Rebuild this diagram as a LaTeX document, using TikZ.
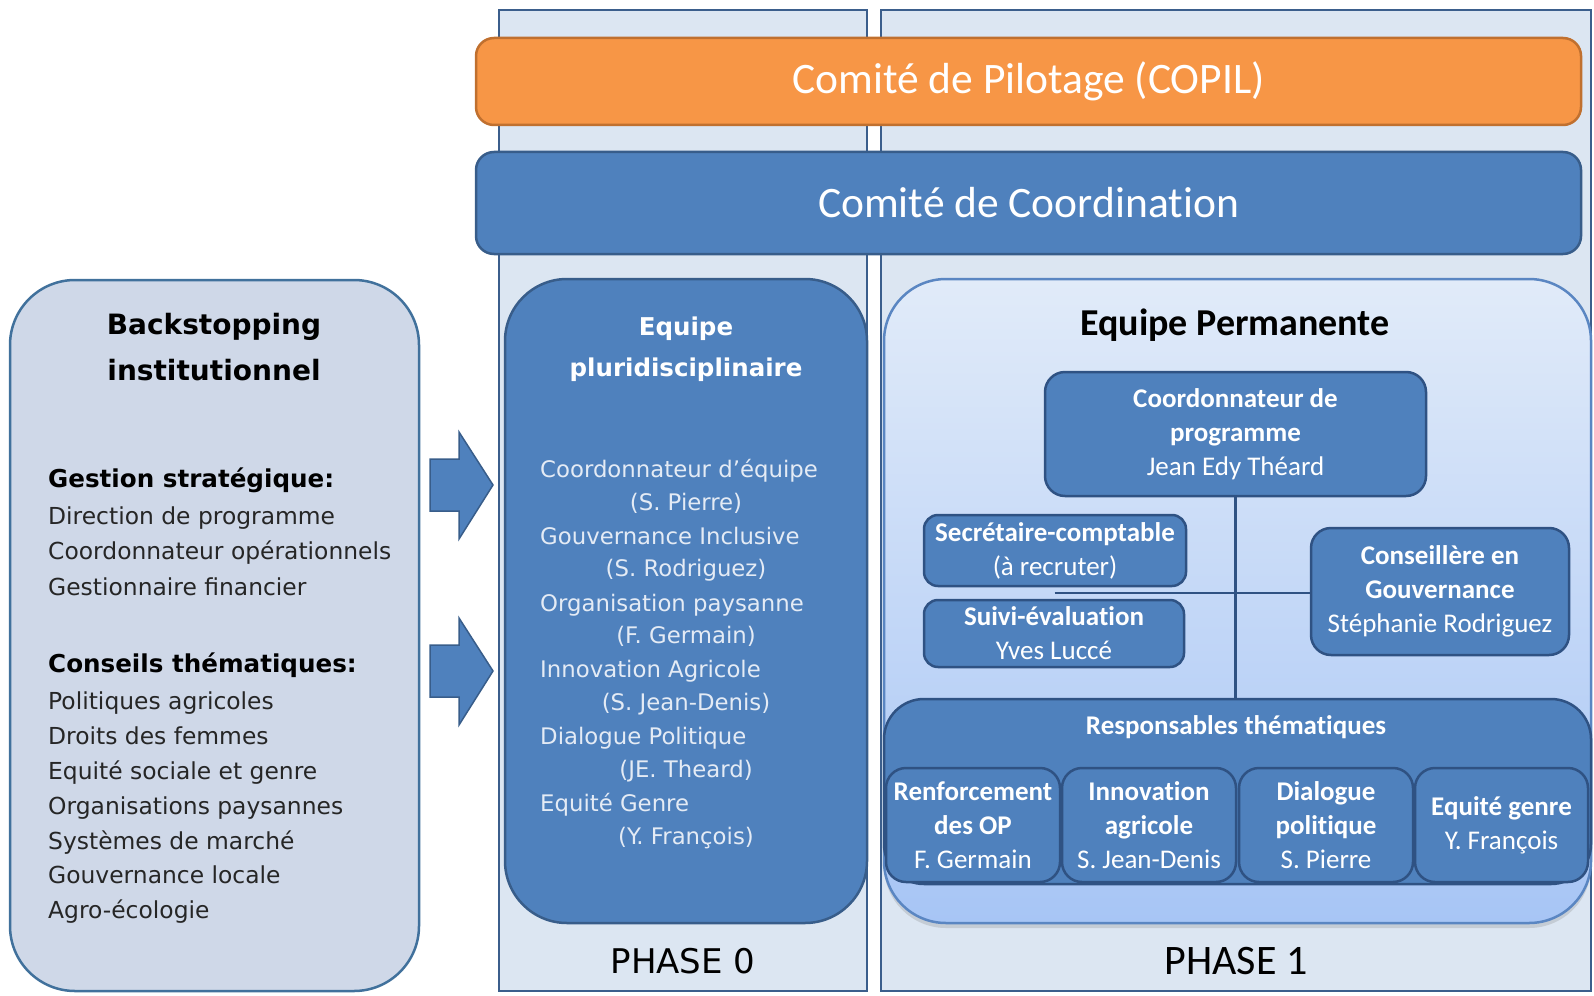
\documentclass[tikz,border=0pt]{standalone}
\usepackage{fontspec}
\setmainfont{Carlito}[Ligatures=NoCommon]
\newfontfamily\vfont{DejaVu Sans}
\usetikzlibrary{calc,shadows}
\definecolor{phasefill}{HTML}{DCE6F2}
\definecolor{phaseline}{HTML}{3B5E8C}
\definecolor{orangefill}{HTML}{F79646}
\definecolor{orangeline}{HTML}{C0702F}
\definecolor{bluefill}{HTML}{4F81BD}
\definecolor{blueline}{HTML}{385D8A}
\definecolor{darkline}{HTML}{2F5283}
\definecolor{backfill}{HTML}{CFD8E8}
\definecolor{backline}{HTML}{41719C}
\definecolor{permtop}{HTML}{E1EBF9}
\definecolor{permbot}{HTML}{A7C5F5}
\definecolor{permline}{HTML}{5A86C2}
\definecolor{lighttext}{HTML}{E4EBF5}
\definecolor{darktext}{HTML}{262626}
\newcommand\bxt{\bfseries\fontsize{27}{34}\selectfont}
\newcommand\rxt{\mdseries\fontsize{27}{34}\selectfont}
\begin{document}
\begin{tikzpicture}[x=1pt,y=-1pt,
  phase/.style={draw=phaseline, line width=2.5pt, fill=phasefill, inner sep=0pt},
  bar/.style={rounded corners=18pt, line width=2.5pt, inner sep=0pt, minimum width=1105pt, text=white, font=\fontsize{43.5}{52}\selectfont},
  bigbox/.style={rounded corners=#1, line width=2.5pt, inner sep=0pt},
  smallbox/.style={rounded corners=#1, fill=bluefill, draw=darkline, line width=2.5pt, inner sep=0pt, align=center, text=white, font=\fontsize{27}{34}\selectfont},
  lline/.style={anchor=west, inner sep=0pt, text height=0.75em, text depth=0.25em},
  plain/.style={inner sep=0pt, align=center},
  conn/.style={draw=darkline, line width=2.5pt},
  blockarrow/.style={fill=bluefill, draw=blueline, line width=1.5pt, line join=miter}
]
\useasboundingbox (0,0) rectangle (1594,995);
% phase columns
\node[phase, minimum width=368pt, minimum height=981pt] (ph0) at (683,500.5) {};
\node[phase, minimum width=710pt, minimum height=981pt] (ph1) at (1236,500.5) {};
% top bars
\node[bar, fill=orangefill, draw=orangeline, minimum height=87pt] (copil) at (1028.5,81.5) {Comité de Pilotage (COPIL)};
\node[bar, fill=bluefill, draw=blueline, minimum height=102pt] (coord) at (1028.5,203) {Comité de Coordination};
% backstopping
\node[bigbox=65pt, fill=backfill, draw=backline, minimum width=409pt, minimum height=711pt] (back) at (214.5,635.5) {};
\node[plain, font=\vfont\bfseries\fontsize{28}{46}\selectfont] (backt) at (214,347) {Backstopping\\institutionnel};
\begin{scope}[every node/.style={lline, text=darktext, font=\vfont\fontsize{23.4}{28}\selectfont}]
\node[font=\vfont\bfseries\fontsize{24.6}{28}\selectfont, text=black] (g0) at (48,485) {Gestion stratégique:};
\node (g1) at (48,522) {Direction de programme};
\node (g2) at (48,557) {Coordonnateur opérationnels};
\node (g3) at (48,593) {Gestionnaire financier};
\node[font=\vfont\bfseries\fontsize{24.6}{28}\selectfont, text=black] (c0) at (48,670) {Conseils thématiques:};
\node (c1) at (48,707) {Politiques agricoles};
\node (c2) at (48,742) {Droits des femmes};
\node (c3) at (48,777) {Equité sociale et genre};
\node (c4) at (48,812) {Organisations paysannes};
\node (c5) at (48,847) {Systèmes de marché};
\node (c6) at (48,881) {Gouvernance locale};
\node (c7) at (48,916) {Agro-écologie};
\end{scope}
% arrows
\path[blockarrow] (430,459) -- (459,459) -- (459,432) -- (493,485) -- (459,539) -- (459,511) -- (430,511) -- cycle;
\path[blockarrow] (430,645) -- (459,645) -- (459,618) -- (493,671) -- (459,725) -- (459,697) -- (430,697) -- cycle;
% equipe pluridisciplinaire
\node[bigbox=62pt, fill=bluefill, draw=blueline, minimum width=362pt, minimum height=644pt] (plu) at (686,601) {};
\node[plain, text=white, font=\vfont\bfseries\fontsize{24.5}{41}\selectfont] (plut) at (686,349.5) {Equipe\\pluridisciplinaire};
\begin{scope}[every node/.style={text=lighttext, font=\vfont\fontsize{22.8}{28}\selectfont, inner sep=0pt, text height=0.75em, text depth=0.25em}]
\foreach \itm/\nm [count=\i from 0] in {Coordonnateur d’équipe/(S. Pierre), Gouvernance Inclusive/(S. Rodriguez), Organisation paysanne/(F. Germain), Innovation Agricole/(S. Jean-Denis), Dialogue Politique/(JE. Theard), Equité Genre/(Y. François)}{
  \node[anchor=west] (pi\i) at (540,475+66.8*\i) {\itm};
  \node (pn\i) at (686,507.6+66.8*\i) {\nm};
}
\end{scope}
\node[plain, font=\vfont\fontsize{34}{40}\selectfont] (p0) at (683,961) {PHASE 0};
% equipe permanente
\node[bigbox=62pt, top color=permtop, bottom color=permbot, draw=permline, minimum width=707pt, minimum height=644pt, drop shadow={opacity=0.25, shadow xshift=0pt, shadow yshift=-5pt}] (perm) at (1237.5,601) {};
\node[plain, font=\bfseries\fontsize{38}{46}\selectfont] (permt) at (1235,325) {Equipe Permanente};
\node[smallbox=20pt, minimum width=381pt, minimum height=124pt] (cp) at (1235.5,434) {{\bxt Coordonnateur de}\\{\bxt programme}\\{\rxt Jean Edy Théard}};
\node[smallbox=14pt, minimum width=262pt, minimum height=71pt] (sec) at (1055,550.5) {{\bxt Secrétaire-comptable}\\{\rxt (à recruter)}};
\node[smallbox=14pt, minimum width=260pt, minimum height=67pt] (sui) at (1054,633.5) {{\bxt Suivi-évaluation}\\{\rxt Yves Luccé}};
\node[smallbox=20pt, minimum width=258pt, minimum height=127pt] (cons) at (1440,591.5) {{\bxt Conseillère en}\\{\bxt Gouvernance}\\{\rxt Stéphanie Rodriguez}};
\node[smallbox=40pt, minimum width=707pt, minimum height=185pt] (resp) at (1237.5,791.5) {};
\node[plain, text=white, font=\bxt] (respt) at (1236,727) {Responsables thématiques};
\node[smallbox=20pt, minimum width=174pt, minimum height=114pt] (r1) at (973,825) {{\bxt Renforcement}\\{\bxt des OP}\\{\rxt F. Germain}};
\node[smallbox=20pt, minimum width=174pt, minimum height=114pt] (r2) at (1149,825) {{\bxt Innovation}\\{\bxt agricole}\\{\rxt S. Jean-Denis}};
\node[smallbox=20pt, minimum width=174pt, minimum height=114pt] (r3) at (1326,825) {{\bxt Dialogue}\\{\bxt politique}\\{\rxt S. Pierre}};
\node[smallbox=20pt, minimum width=173pt, minimum height=114pt] (r4) at (1501.5,825) {{\bxt Equité genre}\\{\rxt Y. François}};
% connectors
\coordinate (sj) at ($(sec.south)!0.5!(sui.north)$);
\draw[conn] (cp.south) -- (resp.north -| cp.south);
\draw[conn] (sj) -- (sj -| cons.west);
\node[plain, font=\fontsize{42}{50}\selectfont] (p1) at (1236,961) {PHASE 1};
\end{tikzpicture}
\end{document}
